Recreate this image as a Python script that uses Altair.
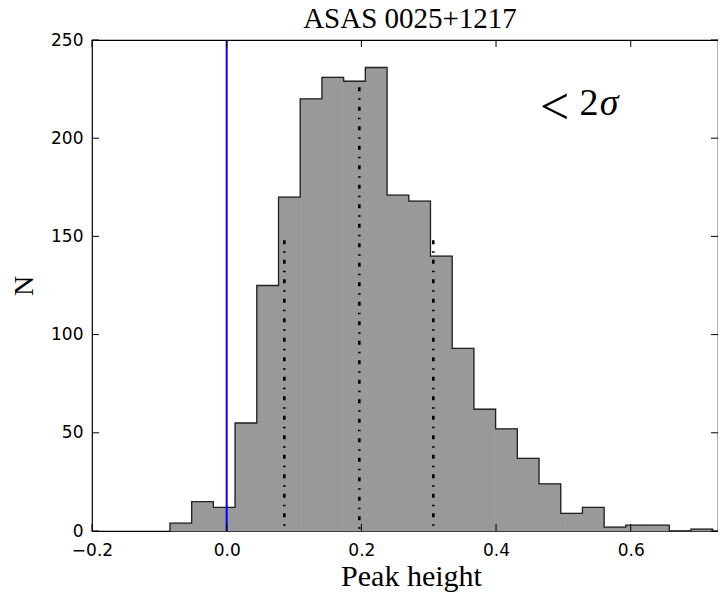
import altair as alt
import pandas as pd
import numpy as np

# ---- data ----
first_edge = -0.0842
last_edge = 0.7217
counts = [4, 15, 12, 55, 125, 170, 220, 231, 229, 236, 171, 168, 140, 93,
          62, 52, 37, 24, 9, 12, 2, 3, 3, 0, 1]
percentile_x = [0.0856, 0.197, 0.3068]
percentile_top = [148, 226, 148]
zero_line_x = [0.0]
x_ticks = [-0.2, 0.0, 0.2, 0.4, 0.6]
y_ticks = [0, 50, 100, 150, 200, 250]
x_domain = [-0.2, 0.7296]
y_domain = [0, 250]

W, H = 626, 491

edges = np.linspace(first_edge, last_edge, len(counts) + 1)
bins = pd.DataFrame({"x0": edges[:-1], "x1": edges[1:], "n": counts})

# outline of the step histogram
ox, oy = [edges[0]], [0]
for i, c in enumerate(counts):
    ox += [edges[i], edges[i + 1]]
    oy += [c, c]
ox.append(edges[-1]); oy.append(0)
outline = pd.DataFrame({"x": ox, "y": oy, "o": range(len(ox))})

xs = alt.Scale(domain=x_domain, nice=False, zero=False)
ys = alt.Scale(domain=y_domain, nice=False)

xaxis = alt.Axis(values=x_ticks, format=".1f", ticks=False, domain=False, grid=False,
                 labelFont="DejaVu Sans", labelFontSize=17, labelColor="black",
                 labelPadding=11, labelFlush=False,
                 title="Peak height", titleFont="Liberation Serif", titleFontSize=30,
                 titleFontWeight="normal", titleColor="black",
                 titleBaseline="alphabetic", titleAlign="center", titleX=319, titleY=54)
yaxis = alt.Axis(values=y_ticks, ticks=False, domain=False, grid=False,
                 labelFont="DejaVu Sans", labelFontSize=17, labelColor="black",
                 labelPadding=9, labelFlush=False,
                 title="N", titleFont="Liberation Serif", titleFontSize=28,
                 titleFontWeight="normal", titleColor="black", titleAngle=270,
                 titleAlign="center", titleBaseline="middle", titleX=-68, titleY=H / 2)

hist = alt.Chart(bins).mark_rect(color="#999999", stroke="#999999",
                                 strokeWidth=0.8).encode(
    x=alt.X("x0:Q", scale=xs, axis=xaxis),
    x2="x1:Q",
    y=alt.Y("n:Q", scale=ys, axis=yaxis),
    y2=alt.datum(0),
)

edge = alt.Chart(outline).mark_line(color="#222222", strokeWidth=1.3,
                                    strokeJoin="miter").encode(
    x=alt.X("x:Q", scale=xs), y=alt.Y("y:Q", scale=ys), order="o:Q")

pct = alt.Chart(pd.DataFrame({"x": percentile_x, "t": percentile_top})).mark_rule(
    color="black", strokeWidth=2.6, strokeDash=[4, 7, 1.5, 7]).encode(
    x=alt.X("x:Q", scale=xs), y=alt.Y("t:Q", scale=ys), y2=alt.datum(0))

zero = alt.Chart(pd.DataFrame({"x": zero_line_x})).mark_rule(
    color="#0000ff", strokeWidth=2).encode(
    x=alt.X("x:Q", scale=xs), y=alt.value(0), y2=alt.value(H))

xt = pd.DataFrame({"v": x_ticks})
yt = pd.DataFrame({"v": y_ticks})
tick_style = dict(color="black", strokeWidth=1)
tb = alt.Chart(xt).mark_rule(**tick_style).encode(
    x=alt.X("v:Q", scale=xs), y=alt.value(H), y2=alt.value(H - 7))
tt = alt.Chart(xt).mark_rule(**tick_style).encode(
    x=alt.X("v:Q", scale=xs), y=alt.value(0), y2=alt.value(7))
tl = alt.Chart(yt).mark_rule(**tick_style).encode(
    y=alt.Y("v:Q", scale=ys), x=alt.value(0), x2=alt.value(7))
tr = alt.Chart(yt).mark_rule(**tick_style).encode(
    y=alt.Y("v:Q", scale=ys), x=alt.value(W), x2=alt.value(W - 7))

ann_lt = alt.Chart(pd.DataFrame({"x": [0.4653], "y": [207]})).mark_text(
    text="<", font="Liberation Serif", fontSize=52,
    align="left", baseline="alphabetic", color="black").encode(
    x=alt.X("x:Q", scale=xs), y=alt.Y("y:Q", scale=ys))
ann_2 = alt.Chart(pd.DataFrame({"x": [0.5240], "y": [212]})).mark_text(
    text="2", font="Liberation Serif", fontSize=38,
    align="left", baseline="alphabetic", color="black").encode(
    x=alt.X("x:Q", scale=xs), y=alt.Y("y:Q", scale=ys))
ann_s = alt.Chart(pd.DataFrame({"x": [0.5540], "y": [212]})).mark_text(
    text="σ", font="Liberation Serif", fontSize=38, fontStyle="italic",
    align="left", baseline="alphabetic", color="black").encode(
    x=alt.X("x:Q", scale=xs), y=alt.Y("y:Q", scale=ys))

title = alt.Chart(pd.DataFrame({"t": ["ASAS 0025+1217"]})).mark_text(
    font="Liberation Serif", fontSize=29, align="center", baseline="alphabetic",
    color="black").encode(text="t:N", x=alt.value(318), y=alt.value(-12))

chart = alt.layer(hist, edge, pct, zero, tb, tt, tl, tr,
                  ann_lt, ann_2, ann_s, title).properties(
    width=W, height=H,
    autosize=alt.AutoSizeParams(type="none"),
    padding={"left": 84, "top": 32, "right": 0, "bottom": 62},
).configure(background="white").configure_view(stroke="black", strokeWidth=1.2)

chart.save("out.html", embed_options={"renderer": "svg", "actions": False})
